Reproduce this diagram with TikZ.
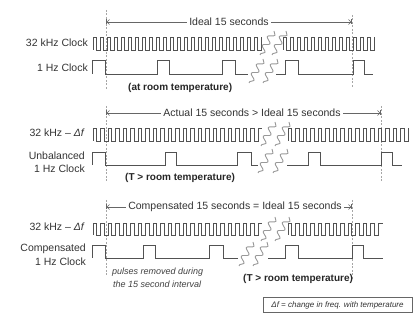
\documentclass[tikz,border=0pt]{standalone}
\usepackage{fontspec}
\setmainfont{Liberation Sans}
\usetikzlibrary{arrows.meta,decorations.pathmorphing}
\newcommand{\kwave}[5]{%
  \draw[wave] (#1,#3) -- (#1,#2) \foreach \i in {1,...,#5} { -- ++(#4/2,0) -- ++(0,#3-#2) -- ++(#4/2,0) -- ++(0,#2-#3) };%
}
\newcommand{\squig}[3]{% x1, x2, ycenter
  \draw[squiggle] (#1+7,#3-12) -- (#1-7,#3+12);
  \draw[squiggle] (#2+7,#3-12) -- (#2-7,#3+12);
}
\tikzset{
  wave/.style={draw=black!68, line width=0.9pt, line join=miter},
  squiggle/.style={draw=black!40, line width=0.9pt, decorate, decoration={snake, amplitude=3pt, segment length=10pt}},
  marker/.style={draw=black!35, line width=0.5pt, dash pattern=on 2pt off 1.5pt},
  span/.style={draw=black!60, line width=0.6pt, {Bar[width=5pt]Straight Barb[length=2.5pt]}-{Straight Barb[length=2.5pt]Bar[width=5pt]}},
  spantext/.style={fill=white, inner sep=2pt, font=\fontsize{10.5}{12}\selectfont, text=black!80},
  lbl/.style={anchor=east, inner sep=0pt, font=\fontsize{10.5}{12}\selectfont, text=black!80},
  cond/.style={anchor=west, inner sep=0pt, font=\fontsize{10}{12}\selectfont\bfseries, text=black!85},
  note/.style={anchor=west, inner sep=0pt, font=\fontsize{9}{11}\selectfont\itshape, text=black!75},
}
\begin{document}
\begin{tikzpicture}[x=1pt, y=-1pt]
\useasboundingbox (0,0) rectangle (416,320);

% ---------- Section 1 ----------
\draw[marker] (106,10) -- (106,90);
\draw[marker] (352,15) -- (352,88);
\draw[span] (106,22) -- (352,22);
\node[spantext] (t1) at (229,22) {Ideal 15 seconds};
\node[lbl] (l1a) at (88,43) {32 kHz Clock};
\node[lbl] (l1b) at (88,68) {1 Hz Clock};
\kwave{93}{37}{50}{7}{24}
\kwave{283}{37}{50}{7}{13}
\draw[wave] (92,74) -- (92,60) -- (105,60) -- (105,74) -- (157,74) -- (157,60) -- (169,60) -- (169,74) -- (222,74) -- (222,60) -- (235,60) -- (235,74) -- (248,74);
\draw[wave] (276,74) -- (285,74) -- (285,60) -- (298,60) -- (298,74) -- (353,74) -- (353,60) -- (364,60) -- (364,74) -- (373,74);
\squig{267}{279}{43}
\squig{256}{270}{71}
\node[cond] (c1) at (128,88) {(at room temperature)};

% ---------- Section 2 ----------
\draw[marker] (106,106) -- (106,182);
\draw[marker] (381,106) -- (381,182);
\draw[span] (106,113) -- (381,113);
\node[spantext] (t2) at (252,113) {Actual 15 seconds {>} Ideal 15 seconds};
\node[lbl] (l2a) at (85,133) {32 kHz – \textit{Δf}};
\node[lbl] (l2b) at (85,156) {Unbalanced};
\node[lbl] (l2c) at (85,169) {1 Hz Clock};
\kwave{93}{128}{141}{7.5}{22}
\draw[wave] (258,128) -- (262,128);
\kwave{288}{128}{141}{7.5}{16}
\draw[wave] (92,165) -- (92,152) -- (105,152) -- (105,165) -- (165,165) -- (165,152) -- (176,152) -- (176,165) -- (237,165) -- (237,152) -- (251,152) -- (251,165) -- (258,165);
\draw[wave] (287,165) -- (308,165) -- (308,152) -- (320,152) -- (320,165) -- (381,165) -- (381,152) -- (392,152) -- (392,165) -- (402,165);
\squig{268}{282}{134}
\squig{265}{280}{161}
\node[cond] (c2) at (125,178) {(T {>} room temperature)};

% ---------- Section 3 ----------
\draw[marker] (106,200) -- (106,276);
\draw[marker] (352,200) -- (352,280);
\draw[span] (106,207) -- (352,207);
\node[spantext] (t3) at (235,207) {Compensated 15 seconds = Ideal 15 seconds};
\node[lbl] (l3a) at (85,227) {32 kHz – \textit{Δf}};
\node[lbl] (l3b) at (86,249) {Compensated};
\node[lbl] (l3c) at (86,262) {1 Hz Clock};
\kwave{93}{223}{235}{7.5}{22}
\draw[wave] (258,223) -- (262,223);
\kwave{288}{223}{235}{7.5}{12}
\draw[wave] (378,223) -- (383,223);
\draw[wave] (92,258) -- (92,245) -- (105,245) -- (105,258) -- (143,258) -- (143,245) -- (155,245) -- (155,258) -- (209,258) -- (209,245) -- (223,245) -- (223,258) -- (238,258);
\draw[wave] (268,258) -- (285,258) -- (285,245) -- (298,245) -- (298,258) -- (352,258) -- (352,245) -- (363,245) -- (363,258) -- (383,258);
\squig{268}{282}{229}
\squig{246}{260}{254}
\node[note] (n1) at (112,272) {pulses removed during};
\node[note] (n2) at (113,284) {the 15 second interval};
\node[cond] (c3) at (243,279) {(T {>} room temperature)};

% ---------- legend ----------
\node[draw=black!60, line width=0.8pt, minimum width=149pt, minimum height=15pt, inner sep=1pt,
      font=\fontsize{8}{10}\selectfont\itshape, text=black!80] (key) at (337.5,305) {Δf = change in freq. with temperature};
\end{tikzpicture}
\end{document}
